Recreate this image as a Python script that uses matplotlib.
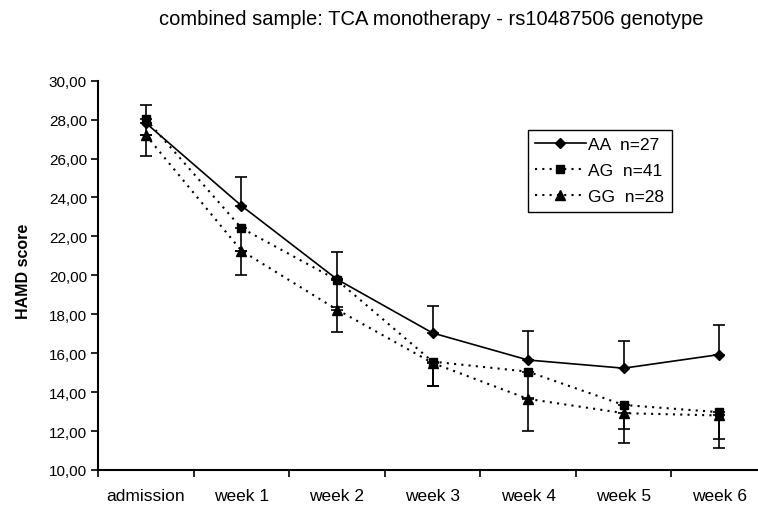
import numpy as np
import matplotlib.pyplot as plt

plt.rcParams['font.family'] = ['Liberation Sans', 'DejaVu Sans']

weeks = ['admission', 'week 1', 'week 2', 'week 3', 'week 4', 'week 5', 'week 6']

aa = [27.83, 23.58, 19.80, 17.04, 15.65, 15.23, 15.93]
ag = [28.03, 22.43, 19.76, 15.57, 15.05, 13.34, 12.97]
gg = [27.21, 21.27, 18.24, 15.50, 13.65, 12.92, 12.80]

# one-sided error bars (AA up, AG/GG down)
aa_err = [0.94, 1.46, 1.39, 1.40, 1.51, 1.42, 1.52]
ag_err = [0.80, 1.20, 1.40, 1.27, 1.35, 1.23, 1.37]
gg_err = [1.06, 1.25, 1.16, 1.20, 1.63, 1.54, 1.67]

labels = ['AA  n=27', 'AG  n=41', 'GG  n=28']

fig = plt.figure(figsize=(7.58, 5.06), dpi=100)
ax = fig.add_axes([0.1293, 0.0692, 0.8826, 0.7693])

x = np.arange(len(weeks))
dots = (0, (1, 2.5))

zeros = np.zeros(len(weeks))
ax.errorbar(x, aa, yerr=[zeros, aa_err], fmt='none', ecolor='black',
            elinewidth=1.2, capsize=4, capthick=1.2)
ax.errorbar(x, ag, yerr=[ag_err, zeros], fmt='none', ecolor='black',
            elinewidth=1.2, capsize=4, capthick=1.2)
ax.errorbar(x, gg, yerr=[gg_err, zeros], fmt='none', ecolor='black',
            elinewidth=1.2, capsize=4, capthick=1.2)

ax.plot(x, aa, color='black', linestyle='-', linewidth=1.2,
        marker='D', markersize=5, label=labels[0])
ax.plot(x, ag, color='black', linestyle=dots, linewidth=1.5,
        marker='s', markersize=6, label=labels[1])
ax.plot(x, gg, color='black', linestyle=dots, linewidth=1.5,
        marker='^', markersize=6.5, label=labels[2])

ax.set_xlim(-0.5, len(weeks) - 0.5)
ax.set_ylim(10, 30)
ax.set_yticks(np.arange(10, 31, 2))
ax.set_yticklabels([f'{v:.2f}'.replace('.', ',') for v in np.arange(10, 31, 2)])
ax.set_xticks(x)
ax.set_xticklabels(weeks)
ax.set_xticks(np.arange(-0.5, len(weeks) - 0.5, 1), minor=True)
ax.tick_params(axis='x', which='major', length=0, pad=13, labelsize=12.5)
ax.tick_params(axis='x', which='minor', length=5, width=1.2, direction='out')
ax.tick_params(axis='y', length=5, width=1.2, direction='out', labelsize=11, pad=3)

for side in ['top', 'right']:
    ax.spines[side].set_visible(False)
for side in ['left', 'bottom']:
    ax.spines[side].set_linewidth(1.5)

ax.set_ylabel('HAMD score', fontsize=11.5, fontweight='bold')
ax.yaxis.set_label_coords(-0.1, 0.514)

fig.text(0.569, 0.961, 'combined sample: TCA monotherapy - rs10487506 genotype',
         ha='center', va='center', fontsize=14.5)

leg = ax.legend(loc='upper left', bbox_to_anchor=(0.6966, 1 - 131 / 506),
                bbox_transform=fig.transFigure, fontsize=12.5, frameon=True,
                fancybox=False, edgecolor='black', framealpha=1,
                handlelength=2.9, labelspacing=0.62, borderpad=0.42,
                handletextpad=0.15, borderaxespad=0)
leg.get_frame().set_linewidth(1.0)

fig.savefig('out.png', dpi=100)
